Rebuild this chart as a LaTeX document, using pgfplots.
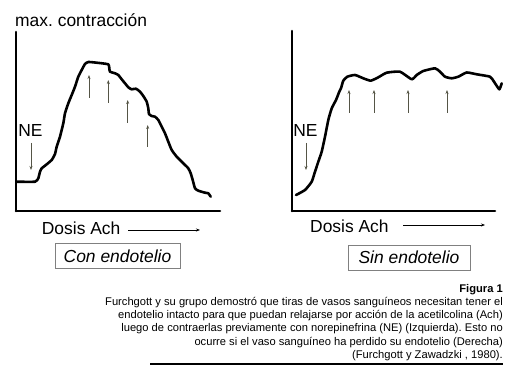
\documentclass[border=0pt]{standalone}
\usepackage{fontspec}
\setmainfont{Liberation Sans}
\usepackage{pgfplots}
\pgfplotsset{compat=1.18}
\usetikzlibrary{arrows.meta}
\definecolor{arrcol}{RGB}{85,85,70}
\frenchspacing
\begin{document}
\begin{tikzpicture}
\path[use as bounding box] (0,0) rectangle (510bp,377bp);
\pgfplotsset{
  myax/.style={
    x=1bp, y=1bp, anchor=south west,
    axis lines=left, enlargelimits=false, clip=false,
    axis line style={-, line width=2.6pt, line cap=round},
    xtick=\empty, ytick=\empty,
  },
  curve/.style={black, line width=2.6pt, line join=round, line cap=round, smooth, tension=0.3},
  uparr/.style={arrcol, line width=0.8pt, -{Stealth[length=4pt,width=3pt]}},
}
% ---------- Left panel: Con endotelio ----------
\begin{axis}[myax, at={(16bp,166bp)}, xmin=16, xmax=220, ymin=166, ymax=345]
\addplot[curve] coordinates {
(16.7,195.3) (35,195.3) (38.3,198.7) (40,205.3) (41.7,208.7) (45,211.3) (51.7,217)
(55,223) (56.7,230.3) (60,240.3) (63.3,253.7) (65,263.7) (68.3,273.7) (71.7,282)
(75,290.3) (78.3,300.3) (81.7,307) (85,313) (88.3,315) (96.7,314.3) (108.3,312.7)
(109.3,308.7) (110,305.3) (115,303.7) (118.3,302) (121.7,297.7) (125,293.7)
(128.3,289.7) (131.7,287.7) (136,288.3) (140,285.3) (143.3,281) (146.7,275.3)
(148.3,268.7) (149,263) (151.7,261) (155,260.3) (158.3,257) (161.7,250.3)
(165,243.7) (168.3,235.3) (171.7,227) (176.7,220.3) (183.3,213.7) (188.3,208.7)
(190.7,203.7) (192.7,197) (195,188.7) (198.3,186.3) (205,184.3) (208.3,183.7) (210.7,180.3)
};
\addplot[uparr] coordinates {(31,234) (31,207)};
\addplot[uparr] coordinates {(89,279) (89,302)};
\addplot[uparr] coordinates {(108.3,274) (108.3,297)};
\addplot[uparr] coordinates {(127.7,254) (127.7,277)};
\addplot[uparr] coordinates {(147.7,230) (147.7,252)};
\end{axis}
% ---------- Right panel: Sin endotelio ----------
\begin{axis}[myax, at={(292bp,166bp)}, xmin=292, xmax=495, ymin=166, ymax=346]
\addplot[curve] coordinates {
(296,182) (305,187) (311.7,195.3) (315,205.3) (318.3,215.3) (321.7,225.3) (325,240.3)
(328.3,257) (331.7,268.7) (336,277) (339.3,285.3) (341,288.7) (343.3,296.3)
(347.3,300.3) (355,302) (363.3,298.7) (370.7,296.3) (378.3,299.7) (386.7,304.3)
(400,305.3) (411.7,297.7) (416.7,302) (423.3,306) (435,308.7) (440,305.3)
(445,300.3) (451.7,298.7) (458.3,300.3) (466.7,304.5) (476.7,302.7) (490,300.3)
(494,295.3) (499.3,287.7) (501.7,293.7)
};
\addplot[uparr] coordinates {(306,234) (306,207)};
\addplot[uparr] coordinates {(349,264) (349,287)};
\addplot[uparr] coordinates {(374,264) (374,287)};
\addplot[uparr] coordinates {(408,264) (408,287)};
\addplot[uparr] coordinates {(447,264) (447,287)};
\end{axis}
% ---------- texts ----------
\tikzset{big/.style={font=\fontsize{17.5}{20}\selectfont, inner sep=0pt}}
\node[big, anchor=west] at (15bp,357bp) {max.\ contracción};
\node[big] at (30.5bp,246bp) {NE};
\node[big] at (305.5bp,246bp) {NE};
\node[big, anchor=west] at (41.7bp,149bp) {Dosis Ach};
\node[big, anchor=west] at (310bp,150.5bp) {Dosis Ach};
\draw[black, line width=0.6pt, -{Stealth[length=4pt,width=3pt]}] (128bp,147bp) -- (200bp,147bp);
\draw[black, line width=0.6pt, -{Stealth[length=4pt,width=3pt]}] (403bp,152bp) -- (485bp,152bp);
\draw[gray, line width=0.9pt] (55bp,108.7bp) rectangle (180bp,133.7bp);
\node[big, font=\fontsize{17.5}{20}\selectfont\itshape] at (117.5bp,121.2bp) {Con endotelio};
\draw[gray, line width=0.9pt] (348.3bp,107bp) rectangle (470bp,132bp);
\node[big, font=\fontsize{17.5}{20}\selectfont\itshape] at (409bp,119.5bp) {Sin endotelio};
% caption
\tikzset{captxt/.style={font=\fontsize{11.2}{13}\selectfont, inner sep=0pt, anchor=base east}}
\node[captxt, font=\fontsize{11.2}{13}\selectfont\bfseries] at (503bp,84bp) {Figura 1};
\node[captxt] at (503bp,71bp) {Furchgott y su grupo demostró que tiras de vasos sanguíneos necesitan tener el};
\node[captxt] at (503bp,58bp) {endotelio intacto para que puedan relajarse por acción de la acetilcolina (Ach)};
\node[captxt] at (503bp,45bp) {luego de contraerlas previamente con norepinefrina (NE) (Izquierda). Esto no};
\node[captxt] at (503bp,32bp) {ocurre si el vaso sanguíneo ha perdido su endotelio (Derecha)};
\node[captxt] at (503bp,19bp) {(Furchgott y Zawadzki , 1980).};
\draw[black, line width=1.4pt] (150bp,13bp) -- (503bp,13bp);
\end{tikzpicture}
\end{document}
